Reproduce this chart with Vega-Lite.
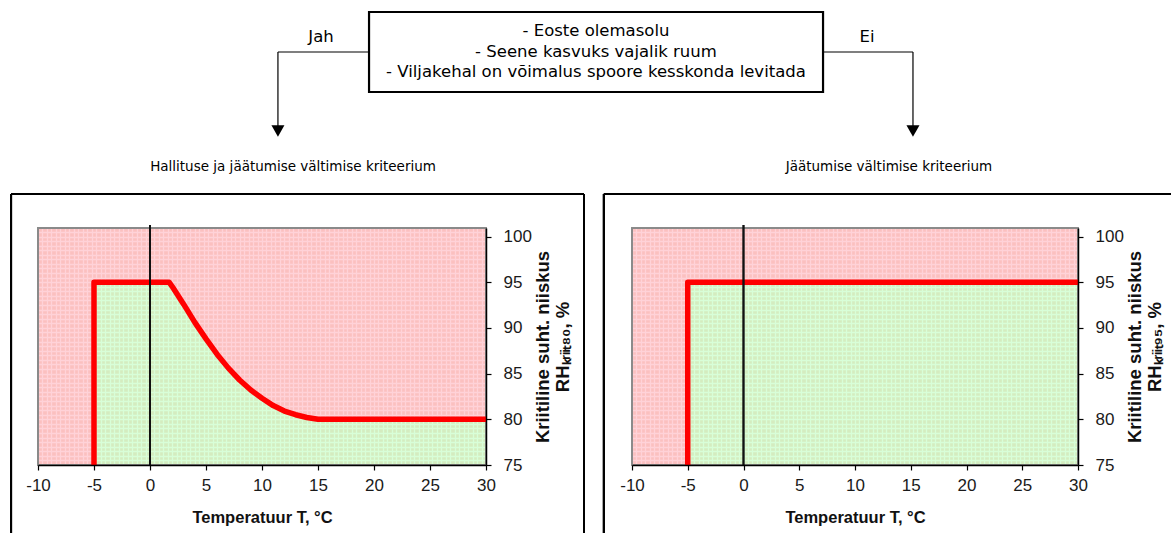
{
  "$schema": "https://vega.github.io/schema/vega-lite/v6.json",
  "background": "white",
  "padding": 0,
  "autosize": {"type": "pad"},
  "bounds": "flush",
  "spacing": 0,
  "config": {
    "view": {"stroke": null},
    "axis": {
      "grid": false,
      "domainColor": "#000000",
      "domainWidth": 1.5,
      "tickColor": "#000000",
      "tickSize": 5,
      "tickWidth": 1.2,
      "labelFont": "Liberation Sans",
      "labelFontSize": 17,
      "labelColor": "#1a1a1a",
      "labelFlush": false,
      "labelOverlap": false,
      "labelExpr": "'' + datum.value",
      "titleFont": "Liberation Sans",
      "titleFontWeight": "bold",
      "titleColor": "#111111"
    }
  },
  "vconcat": [
    {
      "width": 1134,
      "height": 228,
      "view": {"stroke": null},
      "data": {"values": [{}]},
      "layer": [
        {
          "mark": {"type": "rect", "opacity": 0},
          "encoding": {
            "x": {"datum": 0, "type": "quantitative", "scale": {"domain": [3.16, 100], "nice": false, "zero": false}, "axis": null},
            "x2": {"datum": 100},
            "y": {"datum": 0, "type": "quantitative", "scale": {"domain": [0, 42.78], "reverse": true, "nice": false, "zero": false}, "axis": null},
            "y2": {"datum": 100}
          }
        },
        {
          "mark": {"type": "rect", "fill": "#ffffff", "stroke": "#000000", "strokeWidth": 2.2},
          "encoding": {
            "x": {"datum": 31.43, "axis": null}, "x2": {"datum": 70.2},
            "y": {"datum": 2.25, "axis": null}, "y2": {"datum": 17.26}
          }
        },
        {
          "mark": {"type": "text", "text": ["- Eoste olemasolu", "- Seene kasvuks vajalik ruum", "- Viljakehal on võimalus spoore kesskonda levitada"], "font": "DejaVu Sans", "fontSize": 16.5, "lineHeight": 20.5, "align": "center", "baseline": "middle", "color": "#000000"},
          "encoding": {"x": {"datum": 50.81, "axis": null}, "y": {"datum": 5.82, "axis": null}}
        },
        {
          "mark": {"type": "text", "text": "Jah", "font": "DejaVu Sans", "fontSize": 16.5, "align": "center", "baseline": "middle", "color": "#000000"},
          "encoding": {"x": {"datum": 27.33, "axis": null}, "y": {"datum": 6.94, "axis": null}}
        },
        {
          "mark": {"type": "text", "text": "Ei", "font": "DejaVu Sans", "fontSize": 16.5, "align": "center", "baseline": "middle", "color": "#000000"},
          "encoding": {"x": {"datum": 73.95, "axis": null}, "y": {"datum": 6.94, "axis": null}}
        },
        {
          "mark": {"type": "rule", "color": "#000000", "strokeWidth": 1.2},
          "encoding": {"x": {"datum": 23.65, "axis": null}, "x2": {"datum": 31.43}, "y": {"datum": 9.76, "axis": null}}
        },
        {
          "mark": {"type": "rule", "color": "#000000", "strokeWidth": 1.2},
          "encoding": {"x": {"datum": 23.65, "axis": null}, "y": {"datum": 9.76, "axis": null}, "y2": {"datum": 23.64}}
        },
        {
          "mark": {"type": "rule", "color": "#000000", "strokeWidth": 1.2},
          "encoding": {"x": {"datum": 70.2, "axis": null}, "x2": {"datum": 77.88}, "y": {"datum": 9.76, "axis": null}}
        },
        {
          "mark": {"type": "rule", "color": "#000000", "strokeWidth": 1.2},
          "encoding": {"x": {"datum": 77.88, "axis": null}, "y": {"datum": 9.76, "axis": null}, "y2": {"datum": 23.64}}
        },
        {
          "mark": {"type": "point", "shape": "triangle-down", "filled": true, "size": 170, "color": "#000000", "opacity": 1},
          "encoding": {"x": {"datum": 23.65, "axis": null}, "y": {"datum": 24.58, "axis": null}}
        },
        {
          "mark": {"type": "point", "shape": "triangle-down", "filled": true, "size": 170, "color": "#000000", "opacity": 1},
          "encoding": {"x": {"datum": 77.88, "axis": null}, "y": {"datum": 24.58, "axis": null}}
        },
        {
          "mark": {"type": "text", "text": "Hallituse ja jäätumise vältimise kriteerium", "font": "DejaVu Sans", "fontSize": 13.5, "align": "center", "baseline": "middle", "color": "#000000"},
          "encoding": {"x": {"datum": 24.94, "axis": null}, "y": {"datum": 31.33, "axis": null}}
        },
        {
          "mark": {"type": "text", "text": "Jäätumise vältimise kriteerium", "font": "DejaVu Sans", "fontSize": 13.5, "align": "center", "baseline": "middle", "color": "#000000"},
          "encoding": {"x": {"datum": 75.83, "axis": null}, "y": {"datum": 31.33, "axis": null}}
        }
      ]
    },
    {
      "bounds": "flush",
      "spacing": 146,
      "hconcat": [
        {
          "width": 448,
          "height": 237,
          "view": {"fill": "#F0BFA9", "stroke": null},
          "data": {"values": [
            {"T": -10, "RH": 75}, {"T": -5, "RH": 75}, {"T": -5, "RH": 95}, {"T": 0, "RH": 95},
            {"T": 1.7, "RH": 95}, {"T": 2, "RH": 94.5}, {"T": 3, "RH": 92.6}, {"T": 4, "RH": 90.6},
            {"T": 5, "RH": 88.8}, {"T": 6, "RH": 87.1}, {"T": 7, "RH": 85.6}, {"T": 8, "RH": 84.3},
            {"T": 9, "RH": 83.2}, {"T": 10, "RH": 82.3}, {"T": 11, "RH": 81.5}, {"T": 12, "RH": 80.9},
            {"T": 13, "RH": 80.5}, {"T": 14, "RH": 80.2}, {"T": 15, "RH": 80}, {"T": 20, "RH": 80},
            {"T": 30, "RH": 80}
          ]},
          "resolve": {"axis": {"x": "independent", "y": "independent"}},
          "layer": [
            {
              "mark": {"type": "area", "color": "#C9FEC9", "opacity": 0.72},
              "encoding": {
                "x": {"field": "T", "type": "quantitative", "scale": {"domain": [-10, 30], "nice": false, "zero": false},
                  "axis": {"orient": "bottom", "title": null, "labels": false, "ticks": false, "domain": false, "grid": true, "gridColor": "#ffffff", "gridWidth": 1.3, "gridOpacity": 1, "values": {"expr": "sequence(-10, 30.01, 0.4)"}}},
                "y": {"field": "RH", "type": "quantitative", "scale": {"domain": [75, 100.93], "nice": false, "zero": false},
                  "axis": {"orient": "left", "title": null, "labels": false, "ticks": false, "domain": false, "grid": true, "gridColor": "#ffffff", "gridWidth": 1.3, "gridOpacity": 1, "values": {"expr": "sequence(75, 101, 0.5)"}}},
                "y2": {"datum": 75}
              }
            },
            {
              "mark": {"type": "area", "color": "#FFC0C9", "opacity": 0.72},
              "encoding": {
                "x": {"field": "T", "type": "quantitative", "axis": null},
                "y": {"field": "RH", "type": "quantitative", "axis": null},
                "y2": {"datum": 100.93}
              }
            },
            {
              "mark": {"type": "rect", "fill": null, "stroke": "#8a8a8a", "strokeWidth": 1.5},
              "encoding": {"x": {"datum": -10, "axis": null}, "x2": {"datum": 30}, "y": {"datum": 75, "axis": null}, "y2": {"datum": 100.93}}
            },
            {
              "transform": [{"filter": "datum.T >= -5"}],
              "mark": {"type": "line", "color": "#FF0000", "strokeWidth": 5.5, "strokeJoin": "round", "strokeCap": "butt"},
              "encoding": {
                "x": {"field": "T", "type": "quantitative",
                  "axis": {"orient": "bottom", "zindex": 1, "title": "Temperatuur T, °C", "values": [-10, -5, 0, 5, 10, 15, 20, 25, 30], "labelPadding": 7, "titleFontSize": 16.5, "titlePadding": 16}},
                "y": {"field": "RH", "type": "quantitative",
                  "axis": {"orient": "right", "zindex": 1, "title": ["Kriitiline suht. niiskus", "RHₖᵣᵢᵢₜ₈₀, %"], "values": [75, 80, 85, 90, 95, 100], "labelPadding": 12, "titleFontSize": 18.5, "titleAngle": 270, "titleBaseline": "top", "titleAlign": "center", "titleLineHeight": 20, "titleX": 47, "titleY": 118.5}}
              }
            },
            {
              "mark": {"type": "rule", "color": "#111111", "strokeWidth": 1.5},
              "encoding": {"x": {"datum": 0, "axis": null}, "y": {"datum": 75, "axis": null}, "y2": {"datum": 101.26}}
            },
            {
              "mark": {"type": "rule", "color": "#000000", "strokeWidth": 2},
              "encoding": {"x": {"datum": -12.41, "axis": null}, "y": {"datum": 67.56, "axis": null}, "y2": {"datum": 104.65}}
            },
            {
              "mark": {"type": "rule", "color": "#000000", "strokeWidth": 2},
              "encoding": {"x": {"datum": 38.75, "axis": null}, "y": {"datum": 67.56, "axis": null}, "y2": {"datum": 104.65}}
            },
            {
              "mark": {"type": "rule", "color": "#000000", "strokeWidth": 2},
              "encoding": {"x": {"datum": -12.41, "axis": null}, "x2": {"datum": 38.75}, "y": {"datum": 104.65, "axis": null}}
            }
          ]
        },
        {
          "width": 446,
          "height": 237,
          "view": {"fill": "#F0BFA9", "stroke": null},
          "data": {"values": [
            {"T": -10, "RH": 75}, {"T": -5, "RH": 75}, {"T": -5, "RH": 95}, {"T": 30, "RH": 95}
          ]},
          "resolve": {"axis": {"x": "independent", "y": "independent"}},
          "layer": [
            {
              "mark": {"type": "area", "color": "#C9FEC9", "opacity": 0.72},
              "encoding": {
                "x": {"field": "T", "type": "quantitative", "scale": {"domain": [-10, 30], "nice": false, "zero": false},
                  "axis": {"orient": "bottom", "title": null, "labels": false, "ticks": false, "domain": false, "grid": true, "gridColor": "#ffffff", "gridWidth": 1.3, "gridOpacity": 1, "values": {"expr": "sequence(-10, 30.01, 0.4)"}}},
                "y": {"field": "RH", "type": "quantitative", "scale": {"domain": [75, 100.93], "nice": false, "zero": false},
                  "axis": {"orient": "left", "title": null, "labels": false, "ticks": false, "domain": false, "grid": true, "gridColor": "#ffffff", "gridWidth": 1.3, "gridOpacity": 1, "values": {"expr": "sequence(75, 101, 0.5)"}}},
                "y2": {"datum": 75}
              }
            },
            {
              "mark": {"type": "area", "color": "#FFC0C9", "opacity": 0.72},
              "encoding": {
                "x": {"field": "T", "type": "quantitative", "axis": null},
                "y": {"field": "RH", "type": "quantitative", "axis": null},
                "y2": {"datum": 100.93}
              }
            },
            {
              "mark": {"type": "rect", "fill": null, "stroke": "#8a8a8a", "strokeWidth": 1.5},
              "encoding": {"x": {"datum": -10, "axis": null}, "x2": {"datum": 30}, "y": {"datum": 75, "axis": null}, "y2": {"datum": 100.93}}
            },
            {
              "transform": [{"filter": "datum.T >= -5"}],
              "mark": {"type": "line", "color": "#FF0000", "strokeWidth": 5.5, "strokeJoin": "round", "strokeCap": "butt"},
              "encoding": {
                "x": {"field": "T", "type": "quantitative",
                  "axis": {"orient": "bottom", "zindex": 1, "title": "Temperatuur T, °C", "values": [-10, -5, 0, 5, 10, 15, 20, 25, 30], "labelPadding": 7, "titleFontSize": 16.5, "titlePadding": 16}},
                "y": {"field": "RH", "type": "quantitative",
                  "axis": {"orient": "right", "zindex": 1, "title": ["Kriitiline suht. niiskus", "RHₖᵣᵢᵢₜ₉₅, %"], "values": [75, 80, 85, 90, 95, 100], "labelPadding": 12, "titleFontSize": 18.5, "titleAngle": 270, "titleBaseline": "top", "titleAlign": "center", "titleLineHeight": 20, "titleX": 47, "titleY": 118.5}}
              }
            },
            {
              "mark": {"type": "rule", "color": "#111111", "strokeWidth": 1.5},
              "encoding": {"x": {"datum": 0, "axis": null}, "y": {"datum": 75, "axis": null}, "y2": {"datum": 101.26}}
            },
            {
              "mark": {"type": "rule", "color": "#000000", "strokeWidth": 2},
              "encoding": {"x": {"datum": -12.52, "axis": null}, "y": {"datum": 67.56, "axis": null}, "y2": {"datum": 104.65}}
            },
            {
              "mark": {"type": "rule", "color": "#000000", "strokeWidth": 2},
              "encoding": {"x": {"datum": -12.52, "axis": null}, "x2": {"datum": 38.54}, "y": {"datum": 104.65, "axis": null}}
            }
          ]
        }
      ]
    }
  ]
}
